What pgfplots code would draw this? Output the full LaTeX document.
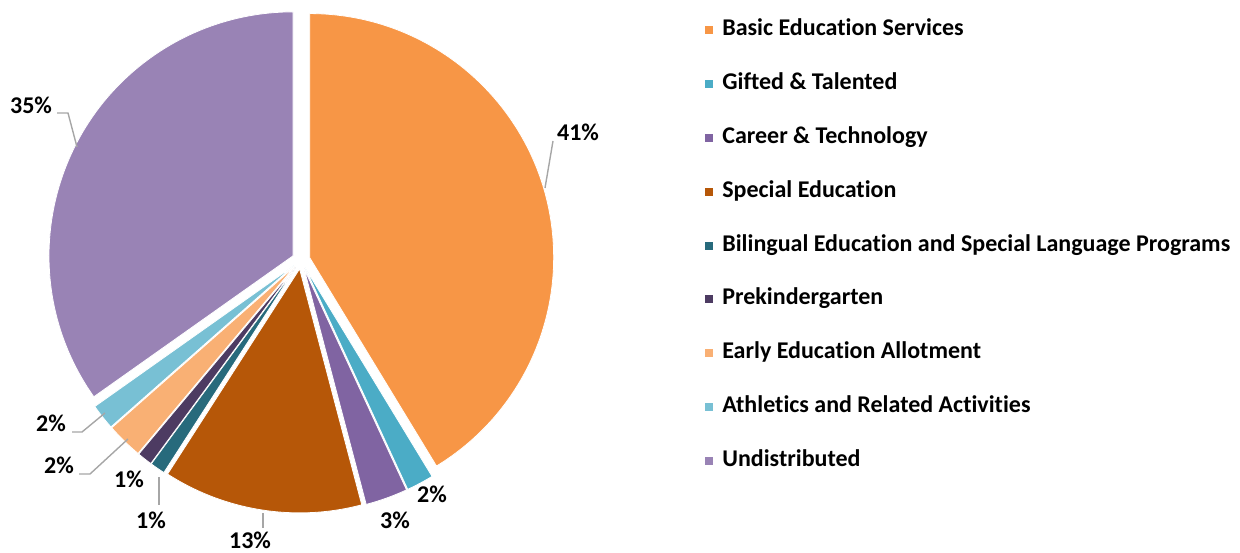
\documentclass[border=0pt]{standalone}
\usepackage{pgfplots}
\usepackage{pgfplotstable}
\pgfplotsset{compat=1.18}
\usepackage{fontspec}
\setmainfont{Carlito}[Ligatures=NoCommon]

\definecolor{c1}{HTML}{F79646}
\definecolor{c2}{HTML}{4BACC6}
\definecolor{c3}{HTML}{8064A2}
\definecolor{c4}{HTML}{B65708}
\definecolor{c5}{HTML}{276A7C}
\definecolor{c6}{HTML}{4D3B62}
\definecolor{c7}{HTML}{F9B074}
\definecolor{c8}{HTML}{78C0D4}
\definecolor{c9}{HTML}{9983B5}
\definecolor{leader}{HTML}{A6A6A6}

\pgfplotstableread[col sep=comma]{
value,clr
41.3,c1
1.8,c2
2.8,c3
13.2,c4
1.0,c5
1.0,c6
2.4,c7
1.7,c8
34.8,c9
}\piedata

\begin{document}
\begin{tikzpicture}[font=\fontsize{12bp}{14bp}\selectfont\bfseries]
\begin{axis}[
  hide axis, scale only axis, width=620bp, height=276.5bp,
  xmin=0, xmax=1240, ymin=0, ymax=553, y dir=reverse, clip=false,
  legend style={at={(0.5685,0.9647)}, anchor=north west, draw=none, fill=none,
    inner sep=0pt, row sep=16.4bp,
    nodes={text height=8bp, text depth=2.5bp, inner sep=0pt},
    /tikz/every odd column/.append style={column sep=4.5bp}},
  legend cell align=left,
  legend image code/.code={\fill (0bp,-2bp) rectangle (4bp,2bp);},
]
\path (axis cs:0,0) rectangle (axis cs:1240,553);
\pgfplotstablegetrowsof{\piedata}
\pgfmathtruncatemacro\sN{\pgfplotsretval-1}
\def\sCum{0}
\pgfplotsforeachungrouped \i in {0,...,\sN}{%
  \pgfplotstablegetelem{\i}{value}\of\piedata \let\sV\pgfplotsretval
  \pgfplotstablegetelem{\i}{clr}\of\piedata \let\sC\pgfplotsretval
  \pgfmathsetmacro\sA{90-3.6*\sCum}%
  \pgfmathsetmacro\sB{90-3.6*(\sCum+\sV)}%
  \pgfmathsetmacro\sM{(\sA+\sB)/2}%
  \edef\tmp{\noexpand\fill[fill=\sC, draw=white, line width=0.4bp]
    ([shift={(\sM:4.5bp)}]axis cs:301,260) -- ++(\sA:122bp)
    arc[start angle=\sA, end angle=\sB, radius=122bp] -- cycle;}%
  \tmp
  \pgfmathsetmacro\sCum{\sCum+\sV}%
}
\addlegendimage{fill=c1, draw=none}\addlegendentry{Basic Education Services}
\addlegendimage{fill=c2, draw=none}\addlegendentry{Gifted \& Talented}
\addlegendimage{fill=c3, draw=none}\addlegendentry{Career \& Technology}
\addlegendimage{fill=c4, draw=none}\addlegendentry{Special Education}
\addlegendimage{fill=c5, draw=none}\addlegendentry{Bilingual Education and Special Language Programs}
\addlegendimage{fill=c6, draw=none}\addlegendentry{Prekindergarten}
\addlegendimage{fill=c7, draw=none}\addlegendentry{Early Education Allotment}
\addlegendimage{fill=c8, draw=none}\addlegendentry{Athletics and Related Activities}
\addlegendimage{fill=c9, draw=none}\addlegendentry{Undistributed}

\begin{scope}[every node/.style={text height=7.5bp, text depth=0pt, inner sep=0pt, anchor=center}]
\node at (axis cs:578,133) {41\%};
\node at (axis cs:432,495) {2\%};
\node at (axis cs:395,521) {3\%};
\node at (axis cs:250,541) {13\%};
\node at (axis cs:151,521) {1\%};
\node at (axis cs:129,480) {1\%};
\node at (axis cs:59,466) {2\%};
\node at (axis cs:51,424) {2\%};
\node at (axis cs:31,106) {35\%};
\end{scope}
\begin{scope}[draw=leader, line width=0.7bp]
\draw (axis cs:553,141) -- (axis cs:545,188);
\draw (axis cs:57,113) -- (axis cs:68,113) -- (axis cs:77,147);
\draw (axis cs:72,432) -- (axis cs:82,432) -- (axis cs:105,413);
\draw (axis cs:79,474) -- (axis cs:90,474) -- (axis cs:128,439);
\draw (axis cs:159,477) -- (axis cs:159,505);
\draw (axis cs:263,513) -- (axis cs:263,528);
\end{scope}
\end{axis}
\end{tikzpicture}
\end{document}
